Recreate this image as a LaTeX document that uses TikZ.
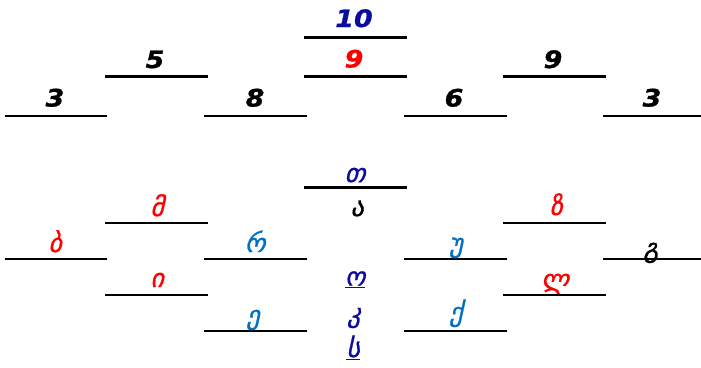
\documentclass[tikz,border=0pt]{standalone}
\usepackage{fontspec}
\setmainfont{DejaVu Sans}
\newfontfamily\numf[FakeStretch=1.12,FakeBold=1.2]{DejaVu Sans}
\newfontfamily\geo[FakeSlant=0.22,FakeBold=1]{DejaVu Sans}
\definecolor{dkblue}{RGB}{12,12,160}
\definecolor{ltblue}{RGB}{0,112,192}
\definecolor{pred}{RGB}{255,0,0}
\tikzset{
  rule/.style={line width=2.3pt, black},
  numtxt/.style={inner sep=0pt, anchor=base, font=\fontsize{24}{24}\selectfont\numf\bfseries\itshape},
  geotxt/.style={inner sep=0pt, anchor=base, font=\fontsize{26}{26}\selectfont\geo},
  uline/.style={line width=1.4pt, dkblue},
}
\begin{document}
\begin{tikzpicture}[x=1pt,y=-1pt]
\useasboundingbox (0,0) rectangle (701,367);
% ---- top half: lines
\draw[rule] (5,116) -- (107,116);
\draw[rule] (105,76.5) -- (208,76.5);
\draw[rule] (204,116) -- (307,116);
\draw[rule] (304,37.5) -- (407,37.5);
\draw[rule] (304,76.5) -- (407,76.5);
\draw[rule] (404,116) -- (507,116);
\draw[rule] (503,76.5) -- (606,76.5);
\draw[rule] (603,116) -- (701,116);
% ---- top half: numbers
\node[numtxt] (n1) at (55,106.5) {3};
\node[numtxt] (n2) at (155,68) {5};
\node[numtxt] (n3) at (255,106.5) {8};
\node[numtxt, text=dkblue] (n4) at (354,27) {10};
\node[numtxt, text=pred] (n5) at (354,67.5) {9};
\node[numtxt] (n6) at (454,106.5) {6};
\node[numtxt] (n7) at (553,68) {9};
\node[numtxt] (n8) at (652,106.5) {3};
% ---- bottom half: lines
\draw[rule] (304,187.5) -- (407,187.5);
\draw[rule] (105,223) -- (208,223);
\draw[rule] (503,223) -- (606,223);
\draw[rule] (5,259) -- (107,259);
\draw[rule] (204,259) -- (307,259);
\draw[rule] (404,259) -- (507,259);
\draw[rule] (603,259) -- (701,259);
\draw[rule] (105,295) -- (208,295);
\draw[rule] (503,295) -- (606,295);
\draw[rule] (204,331) -- (307,331);
\draw[rule] (404,331) -- (507,331);
% ---- bottom half: letters
\node[geotxt, text=dkblue] (g1) at (355,182) {თ};
\node[geotxt] (g2) at (357,216) {ა};
\node[geotxt, text=pred] (g3) at (157,216) {მ};
\node[geotxt, text=pred] (g4) at (556,215) {ზ};
\node[geotxt, text=pred] (g5) at (55,252) {ბ};
\node[geotxt, text=ltblue] (g6) at (255,252) {რ};
\node[geotxt, text=ltblue] (g7) at (456,252) {უ};
\node[geotxt] (g8) at (651,257) {გ};
\node[geotxt, text=pred] (g9) at (157,287) {ი};
\node[geotxt, text=dkblue] (g10) at (355,285.5) {ო};
\node[geotxt, text=pred] (g11) at (555,288) {ლ};
\node[geotxt, text=ltblue] (g12) at (253,324) {ე};
\node[geotxt, text=dkblue] (g13) at (354,322) {კ};
\node[geotxt, text=ltblue] (g14) at (456,321) {ქ};
\node[geotxt, text=dkblue] (g15) at (353,357) {ს};
% underlines
\draw[uline] ([yshift=-1.8pt]g10.base west) -- ([yshift=-1.8pt]g10.base east);
\draw[uline] ([yshift=-2.5pt]g15.base west) -- ([yshift=-2.5pt]g15.base east);
\end{tikzpicture}
\end{document}
